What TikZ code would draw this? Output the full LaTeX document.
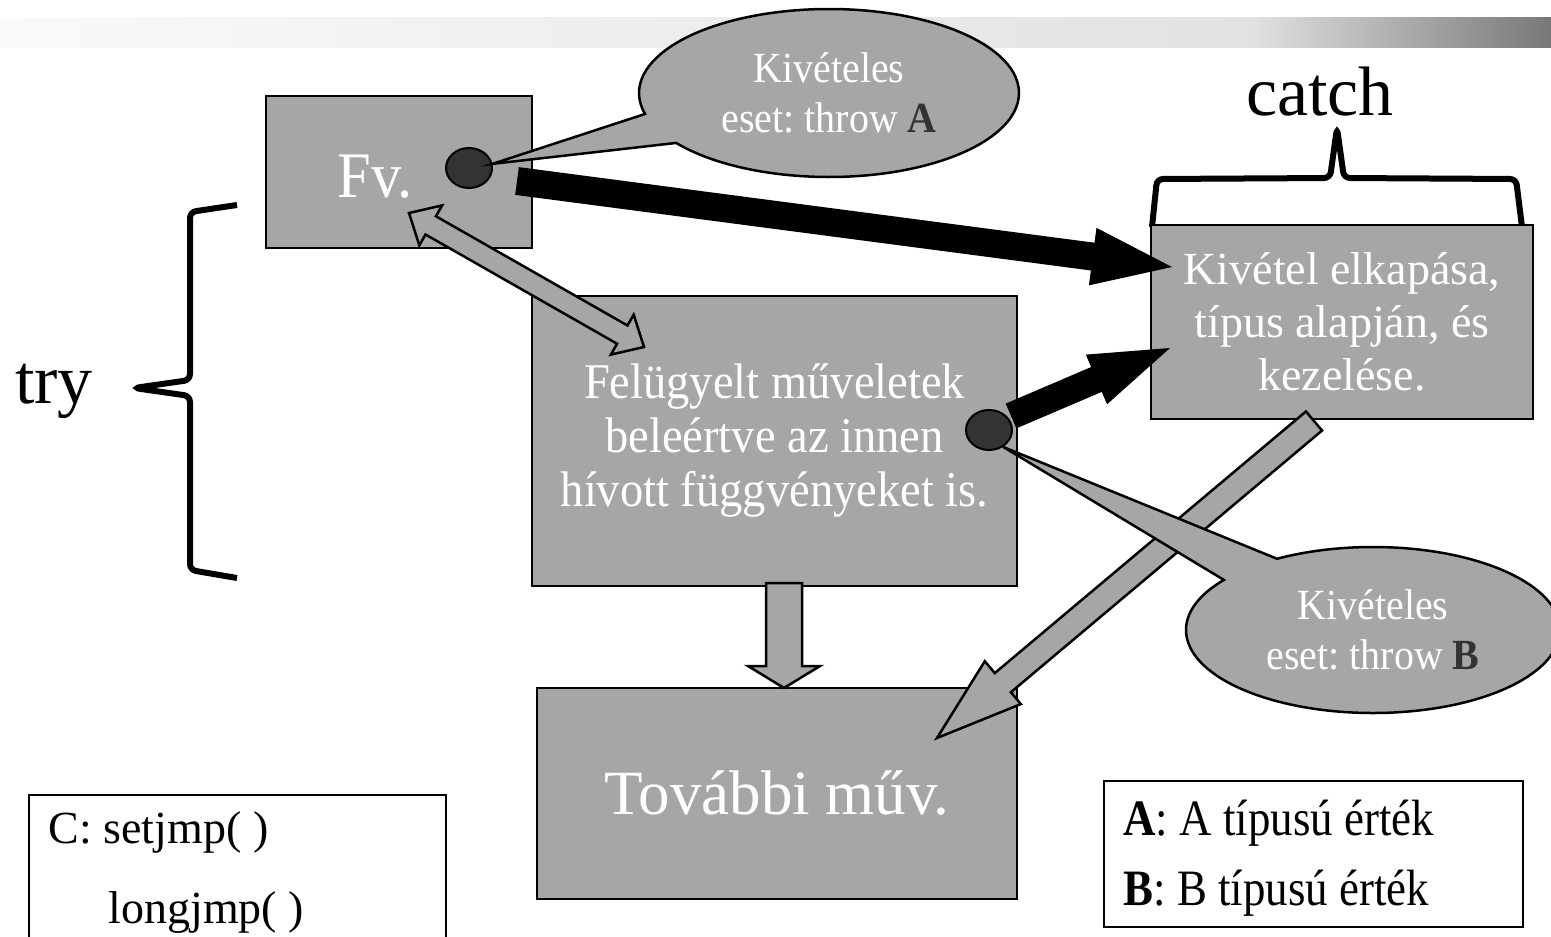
\documentclass[tikz,border=0pt]{standalone}
\usepackage{fontspec}
\setmainfont{Liberation Serif}
\newfontfamily\narrowA[FakeStretch=0.93]{Liberation Serif}
\newfontfamily\narrowB[FakeStretch=0.88]{Liberation Serif}
\usepackage{tikz}
\usetikzlibrary{calc}
\usetikzlibrary{shapes.geometric,shapes.callouts}
\definecolor{boxgray}{HTML}{A6A6A6}
\definecolor{dotgray}{HTML}{333333}
\definecolor{barL}{HTML}{FAFAFA}
\definecolor{barM}{HTML}{E2E2E2}
\definecolor{barR}{HTML}{787878}
\def\BoxLine{2.5pt}
\frenchspacing
% block arrow: style, from, to, shaft half width, head half width, head length
\newcommand{\fatarrow}[6]{%
	\coordinate (fa-base) at ($(#3)!#6!(#2)$);
	\path[#1] ($(#2)!#4!90:(#3)$) -- ($(fa-base)!#4!-90:(#2)$) -- ($(fa-base)!#5!-90:(#2)$) -- (#3)
		-- ($(fa-base)!#5!90:(#2)$) -- ($(fa-base)!#4!90:(#2)$) -- ($(#2)!#4!-90:(#3)$) -- cycle;
}
\newcommand{\fatdblarrow}[6]{%
	\coordinate (fd-a) at ($(#2)!#6!(#3)$);
	\coordinate (fd-b) at ($(#3)!#6!(#2)$);
	\path[#1] (#2) -- ($(fd-a)!#5!90:(#3)$) -- ($(fd-a)!#4!90:(#3)$) -- ($(fd-b)!#4!-90:(#2)$)
		-- ($(fd-b)!#5!-90:(#2)$) -- (#3) -- ($(fd-b)!#5!90:(#2)$) -- ($(fd-b)!#4!90:(#2)$)
		-- ($(fd-a)!#4!-90:(#3)$) -- ($(fd-a)!#5!-90:(#3)$) -- cycle;
}

\begin{document}
\begin{tikzpicture}[x=1pt,y=-1pt,
	box/.style={draw=black,line width=\BoxLine,fill=boxgray,text=white,align=center,inner sep=0pt},
	whitebox/.style={draw=black,line width=2pt,fill=white,inner sep=0pt},
	blackarrow/.style={fill=black},
	grayarrow/.style={draw=black,line width=\BoxLine,fill=boxgray,line join=miter},
	excdot/.style={ellipse,draw=black,line width=2pt,fill=dotgray,minimum width=46pt,minimum height=40pt,inner sep=0pt},
	bubble/.style={ellipse callout,draw=black,line width=\BoxLine,fill=boxgray,text=white,align=center,
		inner sep=0pt,callout pointer arc=22,font={\narrowA\fontsize{43}{50}\selectfont}},
	bracket/.style={line width=6pt,rounded corners=6pt},
	bigword/.style={anchor=base,font={\fontsize{70}{80}\selectfont}},
	plain/.style={anchor=base west,font={\fontsize{46}{54}\selectfont}}]
	\useasboundingbox (0,0) rectangle (1551,937);
	\clip (0,0) rectangle (1551,937);
	% title bar
	\shade[left color=barL,right color=barM] (0,17) rectangle (1250,47);
	\shade[left color=barM,right color=barR] (1250,17) rectangle (1551,47);
	% 
	\node[bigword] (try) at (54,403) {try};
	\node[bigword] (catch) at (1320,115) {catch};
	\draw[bracket] (237,205) -- (190,212) -- (190,380) -- (134,388) -- (190,396) -- (190,570) -- (237,578);
	\draw[bracket] (1152,227) -- (1157,179) -- (1330,178) -- (1337,128) -- (1344,178) -- (1516,179) -- (1522,227);
	% boxes
	\node[box,minimum width=266pt,minimum height=152pt] (fv) at (399,172) {};
	\node[text=white,font={\narrowA\fontsize{65}{70}\selectfont}] (fvlbl) at (375,177) {Fv.};
	\node[box,minimum width=485pt,minimum height=290pt,font={\narrowA\fontsize{50}{54}\selectfont}] (felug) at (774.5,441)
		{Felügyelt műveletek\\beleértve az innen\\hívott függvényeket is.};
	\node[box,minimum width=382pt,minimum height=194pt,font={\fontsize{46}{53}\selectfont}] (catchbox) at (1342,322)
		{Kivétel elkapása,\\típus alapján, és\\kezelése.};
	\node[box,minimum width=480pt,minimum height=211pt,font={\fontsize{63}{70}\selectfont}] (tovabbi) at (777,793.5)
		{További műv.};
	\node[whitebox,minimum width=417pt,minimum height=200pt,anchor=north west] (cbox) at (28,794) {};
	\node[plain] (setjmp) at (45,843) {C: setjmp( )};
	\node[plain] (longjmp) at (105,923) {longjmp( )};
	\node[whitebox,minimum width=419pt,minimum height=146pt] (legend) at (1313.5,854) {};
	\node[plain,font={\narrowB\fontsize{51}{54}\selectfont}] (legA) at (1120,835) {\textbf{A}: A típusú érték};
	\node[plain,font={\narrowB\fontsize{51}{54}\selectfont}] (legB) at (1120,905) {\textbf{B}: B típusú érték};
	% arrow ends
	\coordinate (fvEnd) at (409,213);
	\coordinate (felugEnd) at (644,347);
	\coordinate (felugOut) at (784,583);
	\coordinate (tovTop) at (784,688);
	\coordinate (catchOut) at (1314,421);
	\coordinate (tovIn) at (937,738);
	\coordinate (thrA) at (517,181);
	\coordinate (catchInA) at (1172,267);
	\coordinate (thrB) at (1011,416);
	\coordinate (catchInB) at (1170,348);
	% 
	\fatdblarrow{grayarrow}{fvEnd}{felugEnd}{10.5pt}{23pt}{25pt}
	\fatarrow{grayarrow}{felugOut}{tovTop}{18pt}{36pt}{22pt}
	\fatarrow{grayarrow}{catchOut}{tovIn}{12.5pt}{28pt}{86pt}
	\fatarrow{blackarrow}{thrA}{catchInA}{14pt}{29pt}{80pt}
	\fatarrow{blackarrow}{thrB}{catchInB}{13.5pt}{27pt}{80pt}
	% throw points
	\node[excdot] (dotA) at (469,168) {};
	\node[excdot] (dotB) at (989,430) {};
	\node[bubble,minimum width=380pt,minimum height=168pt,callout absolute pointer={(dotA.10)}] (bubA) at (829,93)
		{Kivételes\\eset: throw {\color{dotgray}\textbf{A}}};
	\node[bubble,minimum width=374pt,minimum height=166pt,callout absolute pointer={(dotB.-50)}] (bubB) at (1373,630)
		{Kivételes\\eset: throw {\color{dotgray}\textbf{B}}};
\end{tikzpicture}
\end{document}
